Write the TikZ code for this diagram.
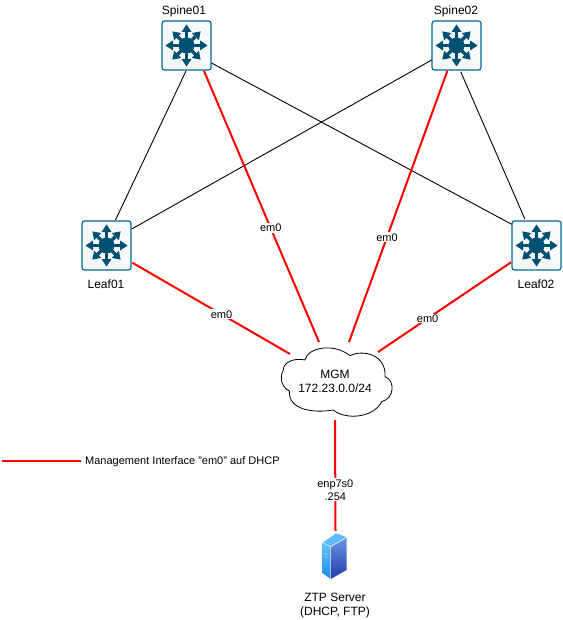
\documentclass[tikz,border=0pt]{standalone}
\usepackage{fontspec}
\setmainfont{Liberation Sans}
\usetikzlibrary{arrows.meta}
\definecolor{swblue}{HTML}{005073}
\definecolor{swedge}{HTML}{036897}
\definecolor{swfill}{HTML}{F8FBFC}
\definecolor{srvLt}{HTML}{63C0FF}
\definecolor{srvLb}{HTML}{1C8CF0}
\definecolor{srvRt}{HTML}{6E93E6}
\definecolor{srvRb}{HTML}{1F3FA8}
\definecolor{srvTop}{HTML}{5DBBFA}
\tikzset{
  x=1pt,y=-1pt,
  switchbox/.style={draw=swedge,fill=swfill,line width=1.2pt,rounded corners=2.5pt,minimum width=49pt,minimum height=49pt,inner sep=0pt,outer sep=0pt},
  plainline/.style={draw=black,line width=0.9pt},
  mgmt/.style={draw=red,line width=2pt},
  lbl/.style={font=\fontsize{12}{14}\selectfont,inner sep=0pt,align=center},
  edgelabel/.style={font=\fontsize{11}{13}\selectfont,fill=white,inner sep=1pt,align=center,text=black},
  ray/.style={draw=swblue,line width=3.4pt},
}
\newcommand{\swicon}[1]{%
  \begin{scope}[shift={(#1.center)}]
    \fill[swblue] (0,0) circle (8);
    \foreach \a in {0,90,180,270}{
      \begin{scope}[rotate=\a]
        \draw[ray] (6,0) -- (15,0);
        \fill[swblue] (21,0) -- (13.5,-5) -- (13.5,5) -- cycle;
      \end{scope}}
    \foreach \a in {45,135,225,315}{
      \begin{scope}[rotate=\a]
        \draw[ray] (6,0) -- (14,0);
        \fill[swblue] (20,0) -- (12.5,-5) -- (12.5,5) -- cycle;
      \end{scope}}
  \end{scope}}
\begin{document}
\begin{tikzpicture}
\useasboundingbox (0,0) rectangle (562,620);
% connector end points on the MGM cloud
\coordinate (mgmS1) at (319,342);
\coordinate (mgmS2) at (349,342);
\coordinate (mgmL1) at (290,354);
\coordinate (mgmL2) at (378,352);
\coordinate (mgmB) at (335,420);
\coordinate (legA) at (2,460.5);
\coordinate (legB) at (81,460.5);
% switches
\node[switchbox] (s1) at (186.5,45.5) {};
\node[switchbox] (s2) at (456.5,45.5) {};
\node[switchbox] (l1) at (106.5,245.5) {};
\node[switchbox] (l2) at (536.5,245.5) {};
\swicon{s1}\swicon{s2}\swicon{l1}\swicon{l2}
\node[lbl] at (184,11) {Spine01};
\node[lbl] at (456,11) {Spine02};
\node[lbl] at (106,284.5) {Leaf01};
\node[lbl] at (536,284.5) {Leaf02};
% server
\node[inner sep=0pt,minimum width=26pt,minimum height=48pt] (srv) at (335.5,555) {};
\begin{scope}[shift={(290,520)},scale=1/3]
  \shade[top color=srvLt,bottom color=srvLb] (98,68) -- (122,80) -- (122,177) -- (98,160) -- cycle;
  \shade[top color=srvRt,bottom color=srvRb] (122,80) -- (170,52) -- (170,150) -- (122,177) -- cycle;
  \fill[srvTop] (98,68) -- (138,40) -- (170,52) -- (122,80) -- cycle;
  \draw[white,line width=0.5pt] (98,68) -- (122,80) -- (170,52) (122,80) -- (122,177);
  \draw[white!70!cyan,line width=0.4pt] (103,100) -- (112,105) (103,108) -- (112,113);
\end{scope}
\node[lbl] (srvname) at (335,605.5) {ZTP Server\\(DHCP, FTP)};
% cloud
\begin{scope}[shift={(270,335)},scale=1/3]
  \draw[black,line width=0.8pt,fill=white]
    (40,105) .. controls (40,80) and (75,68) .. (105,75)
    .. controls (112,38) and (190,22) .. (240,62)
    .. controls (280,42) and (350,60) .. (345,125)
    .. controls (375,135) and (375,190) .. (335,200)
    .. controls (310,250) and (225,255) .. (190,225)
    .. controls (130,235) and (55,225) .. (58,168)
    .. controls (30,155) and (30,120) .. (40,105) -- cycle;
\end{scope}
\node[lbl] (mgm) at (335,381.5) {MGM\\172.23.0.0/24};
% connectors
\draw[plainline] ([shift={(-0.5,25.5)}]s1.center) -- ([shift={(9,-25.5)}]l1.center);
\draw[plainline] ([shift={(25,17.5)}]s1.center) -- ([shift={(-24.8,-21.2)}]l2.center);
\draw[plainline] ([shift={(-24.8,14.5)}]s2.center) -- ([shift={(25.2,-16.5)}]l1.center);
\draw[plainline] ([shift={(4.2,26.2)}]s2.center) -- ([shift={(-11.5,-26.2)}]l2.center);
\draw[mgmt] ([shift={(17.5,25.5)}]s1.center) -- node[edgelabel,pos=.58] {em0} (mgmS1);
\draw[mgmt] ([shift={(-9.2,25.5)}]s2.center) -- node[edgelabel,pos=.614] {em0} (mgmS2);
\draw[mgmt] ([shift={(25.8,17.2)}]l1.center) -- node[edgelabel,pos=.566] {em0} (mgmL1);
\draw[mgmt] ([shift={(-25.5,16.8)}]l2.center) -- node[edgelabel,pos=.627] {em0} (mgmL2);
\draw[mgmt] (mgmB) -- node[edgelabel,pos=.63] {enp7s0\\.254} (srv.north);
\draw[mgmt] (legA) -- (legB);
\node[edgelabel,anchor=west,inner sep=0pt] (leg) at (85,461.5) {Management Interface "em0" auf DHCP};
\end{tikzpicture}
\end{document}
